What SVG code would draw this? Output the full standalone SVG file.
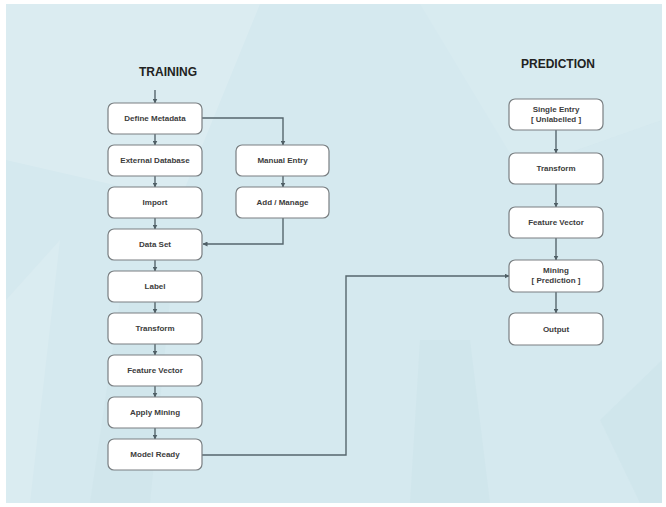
<svg xmlns="http://www.w3.org/2000/svg" width="666" height="507" viewBox="0 0 666 507">
<defs>
<marker id="ah" viewBox="0 0 10 10" refX="9" refY="5" markerWidth="5" markerHeight="5" orient="auto" markerUnits="userSpaceOnUse">
<path d="M0,0 L10,5 L0,10 z" fill="#4f5f66"/>
</marker>
<style>
.box{fill:#ffffff;stroke:#7a7f82;stroke-width:1.2}
.lbl{font-family:"Liberation Sans",Arial,sans-serif;font-size:8px;font-weight:bold;fill:#3c3c3c;text-anchor:middle}
.ttl{font-family:"Liberation Sans",Arial,sans-serif;font-size:12px;font-weight:bold;fill:#222;text-anchor:middle}
.ln{fill:none;stroke:#56666d;stroke-width:1.4;marker-end:url(#ah)}
</style>
</defs>
<rect x="0" y="0" width="666" height="507" fill="#ffffff"/>
<rect x="6" y="4" width="656" height="499" fill="#d5e9ef"/>
<g opacity="0.5">
<polygon points="6,4 260,4 180,200 6,160" fill="#e2f0f4"/>
<polygon points="420,4 662,4 662,120 520,170" fill="#dbedf2"/>
<polygon points="6,300 60,240 30,503 6,503" fill="#e0eff3"/>
<polygon points="90,503 120,300 170,300 150,503" fill="#cfe5eb"/>
<polygon points="410,503 420,340 470,340 490,503" fill="#cbe3ea"/>
<polygon points="600,420 662,360 662,503 640,503" fill="#cbe3ea"/>
</g>
<text class="ttl" x="168" y="76">TRAINING</text>
<text class="ttl" x="558" y="68">PREDICTION</text>
<g id="connectors">
<line class="ln" x1="155" y1="90" x2="155" y2="103"/>
<line class="ln" x1="155" y1="134" x2="155" y2="145"/>
<line class="ln" x1="155" y1="176" x2="155" y2="187"/>
<line class="ln" x1="155" y1="218" x2="155" y2="229"/>
<line class="ln" x1="155" y1="260" x2="155" y2="271"/>
<line class="ln" x1="155" y1="302" x2="155" y2="313"/>
<line class="ln" x1="155" y1="344" x2="155" y2="355"/>
<line class="ln" x1="155" y1="386" x2="155" y2="397"/>
<line class="ln" x1="155" y1="428" x2="155" y2="439"/>
<polyline class="ln" points="202,118 283,118 283,145"/>
<line class="ln" x1="283" y1="176" x2="283" y2="187"/>
<polyline class="ln" points="283,218 283,244 203,244"/>
<polyline class="ln" points="202,455 346,455 346,276 509,276"/>
<line class="ln" x1="556" y1="130" x2="556" y2="153"/>
<line class="ln" x1="556" y1="184" x2="556" y2="207"/>
<line class="ln" x1="556" y1="238" x2="556" y2="260"/>
<line class="ln" x1="556" y1="292" x2="556" y2="313"/>
</g>
<g id="define-metadata"><rect class="box" x="108" y="103" width="94" height="31" rx="6"/><text class="lbl" x="155" y="121">Define Metadata</text></g>
<g id="external-database"><rect class="box" x="108" y="145" width="94" height="31" rx="6"/><text class="lbl" x="155" y="163">External Database</text></g>
<g id="import"><rect class="box" x="108" y="187" width="94" height="31" rx="6"/><text class="lbl" x="155" y="205">Import</text></g>
<g id="data-set"><rect class="box" x="108" y="229" width="94" height="31" rx="6"/><text class="lbl" x="155" y="247">Data Set</text></g>
<g id="label"><rect class="box" x="108" y="271" width="94" height="31" rx="6"/><text class="lbl" x="155" y="289">Label</text></g>
<g id="transform-train"><rect class="box" x="108" y="313" width="94" height="31" rx="6"/><text class="lbl" x="155" y="331">Transform</text></g>
<g id="feature-vector-train"><rect class="box" x="108" y="355" width="94" height="31" rx="6"/><text class="lbl" x="155" y="373">Feature Vector</text></g>
<g id="apply-mining"><rect class="box" x="108" y="397" width="94" height="31" rx="6"/><text class="lbl" x="155" y="415">Apply Mining</text></g>
<g id="model-ready"><rect class="box" x="108" y="439" width="94" height="31" rx="6"/><text class="lbl" x="155" y="457">Model Ready</text></g>
<g id="manual-entry"><rect class="box" x="236" y="145" width="93" height="31" rx="6"/><text class="lbl" x="282.5" y="163">Manual Entry</text></g>
<g id="add-manage"><rect class="box" x="236" y="187" width="93" height="31" rx="6"/><text class="lbl" x="282.5" y="205">Add / Manage</text></g>
<g id="single-entry"><rect class="box" x="509" y="99" width="94" height="31" rx="6"/><text class="lbl" x="556" y="112">Single Entry</text><text class="lbl" x="556" y="122">[ Unlabelled ]</text></g>
<g id="transform-pred"><rect class="box" x="509" y="153" width="94" height="31" rx="6"/><text class="lbl" x="556" y="171">Transform</text></g>
<g id="feature-vector-pred"><rect class="box" x="509" y="207" width="94" height="31" rx="6"/><text class="lbl" x="556" y="225">Feature Vector</text></g>
<g id="mining-prediction"><rect class="box" x="509" y="260" width="94" height="32" rx="6"/><text class="lbl" x="556" y="273">Mining</text><text class="lbl" x="556" y="283">[ Prediction ]</text></g>
<g id="output"><rect class="box" x="509" y="313" width="94" height="32" rx="6"/><text class="lbl" x="556" y="332">Output</text></g>
</svg>
